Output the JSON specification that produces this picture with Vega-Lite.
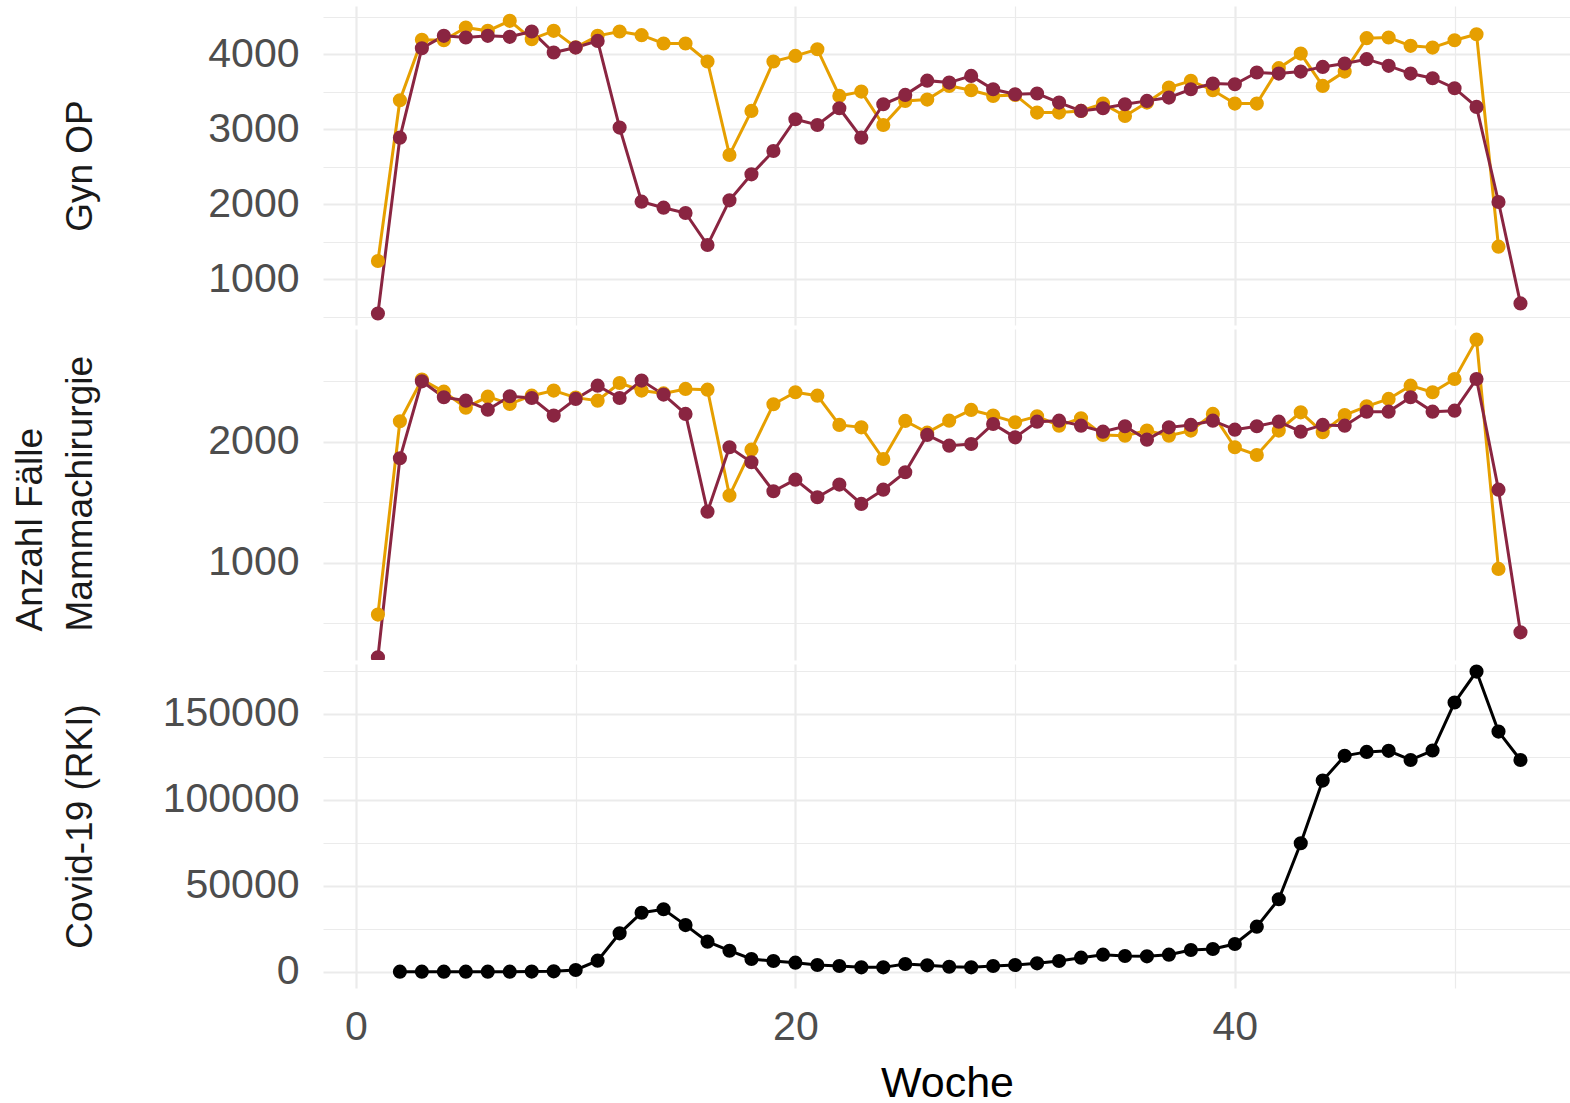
{
  "$schema": "https://vega.github.io/schema/vega-lite/v6.json",
  "padding": {"left": 11, "top": 6, "right": 0, "bottom": 0},
  "autosize": {"type": "pad"},
  "spacing": 4,
  "resolve": {"scale": {"y": "independent"}},
  "config": {
    "view": {"stroke": null},
    "axis": {
      "domain": false, "ticks": false, "tickSize": 0,
      "gridColor": "#EBEBEB",
      "labelFont": "Liberation Sans", "labelFontSize": 41, "labelColor": "#4D4D4D",
      "titleFont": "Liberation Sans", "titleFontSize": 37, "titleColor": "#1A1A1A", "titleFontWeight": "normal",
      "labelOverlap": false, "labelFlush": false
    }
  },
  "datasets": {
    "gyn": [
      {"jahr":"2019","woche":1,"anzahl":1240},{"jahr":"2019","woche":2,"anzahl":3384},{"jahr":"2019","woche":3,"anzahl":4189},{"jahr":"2019","woche":4,"anzahl":4184},{"jahr":"2019","woche":5,"anzahl":4353},{"jahr":"2019","woche":6,"anzahl":4309},{"jahr":"2019","woche":7,"anzahl":4442},{"jahr":"2019","woche":8,"anzahl":4198},{"jahr":"2019","woche":9,"anzahl":4309},{"jahr":"2019","woche":10,"anzahl":4090},{"jahr":"2019","woche":11,"anzahl":4242},{"jahr":"2019","woche":12,"anzahl":4300},{"jahr":"2019","woche":13,"anzahl":4251},{"jahr":"2019","woche":14,"anzahl":4140},{"jahr":"2019","woche":15,"anzahl":4140},{"jahr":"2019","woche":16,"anzahl":3900},{"jahr":"2019","woche":17,"anzahl":2654},{"jahr":"2019","woche":18,"anzahl":3241},{"jahr":"2019","woche":19,"anzahl":3900},{"jahr":"2019","woche":20,"anzahl":3975},{"jahr":"2019","woche":21,"anzahl":4064},{"jahr":"2019","woche":22,"anzahl":3441},{"jahr":"2019","woche":23,"anzahl":3499},{"jahr":"2019","woche":24,"anzahl":3054},{"jahr":"2019","woche":25,"anzahl":3375},{"jahr":"2019","woche":26,"anzahl":3392},{"jahr":"2019","woche":27,"anzahl":3575},{"jahr":"2019","woche":28,"anzahl":3517},{"jahr":"2019","woche":29,"anzahl":3441},{"jahr":"2019","woche":30,"anzahl":3455},{"jahr":"2019","woche":31,"anzahl":3219},{"jahr":"2019","woche":32,"anzahl":3219},{"jahr":"2019","woche":33,"anzahl":3241},{"jahr":"2019","woche":34,"anzahl":3339},{"jahr":"2019","woche":35,"anzahl":3174},{"jahr":"2019","woche":36,"anzahl":3352},{"jahr":"2019","woche":37,"anzahl":3553},{"jahr":"2019","woche":38,"anzahl":3642},{"jahr":"2019","woche":39,"anzahl":3517},{"jahr":"2019","woche":40,"anzahl":3339},{"jahr":"2019","woche":41,"anzahl":3339},{"jahr":"2019","woche":42,"anzahl":3811},{"jahr":"2019","woche":43,"anzahl":4006},{"jahr":"2019","woche":44,"anzahl":3575},{"jahr":"2019","woche":45,"anzahl":3766},{"jahr":"2019","woche":46,"anzahl":4211},{"jahr":"2019","woche":47,"anzahl":4220},{"jahr":"2019","woche":48,"anzahl":4109},{"jahr":"2019","woche":49,"anzahl":4086},{"jahr":"2019","woche":50,"anzahl":4184},{"jahr":"2019","woche":51,"anzahl":4264},{"jahr":"2019","woche":52,"anzahl":1431},
      {"jahr":"2020","woche":1,"anzahl":541},{"jahr":"2020","woche":2,"anzahl":2885},{"jahr":"2020","woche":3,"anzahl":4077},{"jahr":"2020","woche":4,"anzahl":4242},{"jahr":"2020","woche":5,"anzahl":4220},{"jahr":"2020","woche":6,"anzahl":4242},{"jahr":"2020","woche":7,"anzahl":4229},{"jahr":"2020","woche":8,"anzahl":4300},{"jahr":"2020","woche":9,"anzahl":4020},{"jahr":"2020","woche":10,"anzahl":4086},{"jahr":"2020","woche":11,"anzahl":4175},{"jahr":"2020","woche":12,"anzahl":3019},{"jahr":"2020","woche":13,"anzahl":2031},{"jahr":"2020","woche":14,"anzahl":1951},{"jahr":"2020","woche":15,"anzahl":1880},{"jahr":"2020","woche":16,"anzahl":1453},{"jahr":"2020","woche":17,"anzahl":2049},{"jahr":"2020","woche":18,"anzahl":2396},{"jahr":"2020","woche":19,"anzahl":2707},{"jahr":"2020","woche":20,"anzahl":3130},{"jahr":"2020","woche":21,"anzahl":3054},{"jahr":"2020","woche":22,"anzahl":3277},{"jahr":"2020","woche":23,"anzahl":2885},{"jahr":"2020","woche":24,"anzahl":3330},{"jahr":"2020","woche":25,"anzahl":3455},{"jahr":"2020","woche":26,"anzahl":3645},{"jahr":"2020","woche":27,"anzahl":3619},{"jahr":"2020","woche":28,"anzahl":3708},{"jahr":"2020","woche":29,"anzahl":3530},{"jahr":"2020","woche":30,"anzahl":3464},{"jahr":"2020","woche":31,"anzahl":3473},{"jahr":"2020","woche":32,"anzahl":3352},{"jahr":"2020","woche":33,"anzahl":3241},{"jahr":"2020","woche":34,"anzahl":3277},{"jahr":"2020","woche":35,"anzahl":3330},{"jahr":"2020","woche":36,"anzahl":3375},{"jahr":"2020","woche":37,"anzahl":3419},{"jahr":"2020","woche":38,"anzahl":3530},{"jahr":"2020","woche":39,"anzahl":3606},{"jahr":"2020","woche":40,"anzahl":3597},{"jahr":"2020","woche":41,"anzahl":3753},{"jahr":"2020","woche":42,"anzahl":3739},{"jahr":"2020","woche":43,"anzahl":3766},{"jahr":"2020","woche":44,"anzahl":3828},{"jahr":"2020","woche":45,"anzahl":3873},{"jahr":"2020","woche":46,"anzahl":3931},{"jahr":"2020","woche":47,"anzahl":3842},{"jahr":"2020","woche":48,"anzahl":3739},{"jahr":"2020","woche":49,"anzahl":3677},{"jahr":"2020","woche":50,"anzahl":3544},{"jahr":"2020","woche":51,"anzahl":3295},{"jahr":"2020","woche":52,"anzahl":2027},{"jahr":"2020","woche":53,"anzahl":675}
    ],
    "mamma": [
      {"jahr":"2019","woche":1,"anzahl":569},{"jahr":"2019","woche":2,"anzahl":2169},{"jahr":"2019","woche":3,"anzahl":2514},{"jahr":"2019","woche":4,"anzahl":2414},{"jahr":"2019","woche":5,"anzahl":2282},{"jahr":"2019","woche":6,"anzahl":2373},{"jahr":"2019","woche":7,"anzahl":2312},{"jahr":"2019","woche":8,"anzahl":2381},{"jahr":"2019","woche":9,"anzahl":2423},{"jahr":"2019","woche":10,"anzahl":2365},{"jahr":"2019","woche":11,"anzahl":2340},{"jahr":"2019","woche":12,"anzahl":2486},{"jahr":"2019","woche":13,"anzahl":2423},{"jahr":"2019","woche":14,"anzahl":2400},{"jahr":"2019","woche":15,"anzahl":2437},{"jahr":"2019","woche":16,"anzahl":2431},{"jahr":"2019","woche":17,"anzahl":1554},{"jahr":"2019","woche":18,"anzahl":1934},{"jahr":"2019","woche":19,"anzahl":2310},{"jahr":"2019","woche":20,"anzahl":2409},{"jahr":"2019","woche":21,"anzahl":2381},{"jahr":"2019","woche":22,"anzahl":2139},{"jahr":"2019","woche":23,"anzahl":2119},{"jahr":"2019","woche":24,"anzahl":1857},{"jahr":"2019","woche":25,"anzahl":2172},{"jahr":"2019","woche":26,"anzahl":2075},{"jahr":"2019","woche":27,"anzahl":2174},{"jahr":"2019","woche":28,"anzahl":2263},{"jahr":"2019","woche":29,"anzahl":2216},{"jahr":"2019","woche":30,"anzahl":2161},{"jahr":"2019","woche":31,"anzahl":2210},{"jahr":"2019","woche":32,"anzahl":2133},{"jahr":"2019","woche":33,"anzahl":2194},{"jahr":"2019","woche":34,"anzahl":2056},{"jahr":"2019","woche":35,"anzahl":2050},{"jahr":"2019","woche":36,"anzahl":2092},{"jahr":"2019","woche":37,"anzahl":2050},{"jahr":"2019","woche":38,"anzahl":2092},{"jahr":"2019","woche":39,"anzahl":2230},{"jahr":"2019","woche":40,"anzahl":1954},{"jahr":"2019","woche":41,"anzahl":1890},{"jahr":"2019","woche":42,"anzahl":2092},{"jahr":"2019","woche":43,"anzahl":2243},{"jahr":"2019","woche":44,"anzahl":2078},{"jahr":"2019","woche":45,"anzahl":2221},{"jahr":"2019","woche":46,"anzahl":2293},{"jahr":"2019","woche":47,"anzahl":2354},{"jahr":"2019","woche":48,"anzahl":2464},{"jahr":"2019","woche":49,"anzahl":2409},{"jahr":"2019","woche":50,"anzahl":2519},{"jahr":"2019","woche":51,"anzahl":2845},{"jahr":"2019","woche":52,"anzahl":947},
      {"jahr":"2020","woche":1,"anzahl":216},{"jahr":"2020","woche":2,"anzahl":1863},{"jahr":"2020","woche":3,"anzahl":2500},{"jahr":"2020","woche":4,"anzahl":2368},{"jahr":"2020","woche":5,"anzahl":2340},{"jahr":"2020","woche":6,"anzahl":2265},{"jahr":"2020","woche":7,"anzahl":2376},{"jahr":"2020","woche":8,"anzahl":2362},{"jahr":"2020","woche":9,"anzahl":2216},{"jahr":"2020","woche":10,"anzahl":2354},{"jahr":"2020","woche":11,"anzahl":2464},{"jahr":"2020","woche":12,"anzahl":2362},{"jahr":"2020","woche":13,"anzahl":2506},{"jahr":"2020","woche":14,"anzahl":2390},{"jahr":"2020","woche":15,"anzahl":2230},{"jahr":"2020","woche":16,"anzahl":1421},{"jahr":"2020","woche":17,"anzahl":1954},{"jahr":"2020","woche":18,"anzahl":1830},{"jahr":"2020","woche":19,"anzahl":1590},{"jahr":"2020","woche":20,"anzahl":1686},{"jahr":"2020","woche":21,"anzahl":1540},{"jahr":"2020","woche":22,"anzahl":1645},{"jahr":"2020","woche":23,"anzahl":1485},{"jahr":"2020","woche":24,"anzahl":1603},{"jahr":"2020","woche":25,"anzahl":1747},{"jahr":"2020","woche":26,"anzahl":2056},{"jahr":"2020","woche":27,"anzahl":1967},{"jahr":"2020","woche":28,"anzahl":1981},{"jahr":"2020","woche":29,"anzahl":2147},{"jahr":"2020","woche":30,"anzahl":2036},{"jahr":"2020","woche":31,"anzahl":2166},{"jahr":"2020","woche":32,"anzahl":2174},{"jahr":"2020","woche":33,"anzahl":2133},{"jahr":"2020","woche":34,"anzahl":2083},{"jahr":"2020","woche":35,"anzahl":2128},{"jahr":"2020","woche":36,"anzahl":2017},{"jahr":"2020","woche":37,"anzahl":2119},{"jahr":"2020","woche":38,"anzahl":2139},{"jahr":"2020","woche":39,"anzahl":2174},{"jahr":"2020","woche":40,"anzahl":2100},{"jahr":"2020","woche":41,"anzahl":2128},{"jahr":"2020","woche":42,"anzahl":2166},{"jahr":"2020","woche":43,"anzahl":2083},{"jahr":"2020","woche":44,"anzahl":2139},{"jahr":"2020","woche":45,"anzahl":2133},{"jahr":"2020","woche":46,"anzahl":2249},{"jahr":"2020","woche":47,"anzahl":2249},{"jahr":"2020","woche":48,"anzahl":2368},{"jahr":"2020","woche":49,"anzahl":2249},{"jahr":"2020","woche":50,"anzahl":2257},{"jahr":"2020","woche":51,"anzahl":2519},{"jahr":"2020","woche":52,"anzahl":1603},{"jahr":"2020","woche":53,"anzahl":422}
    ],
    "rki": [
      {"jahr":"RKI","woche":2,"anzahl":0},{"jahr":"RKI","woche":3,"anzahl":0},{"jahr":"RKI","woche":4,"anzahl":0},{"jahr":"RKI","woche":5,"anzahl":0},{"jahr":"RKI","woche":6,"anzahl":0},{"jahr":"RKI","woche":7,"anzahl":20},{"jahr":"RKI","woche":8,"anzahl":50},{"jahr":"RKI","woche":9,"anzahl":200},{"jahr":"RKI","woche":10,"anzahl":1000},{"jahr":"RKI","woche":11,"anzahl":6400},{"jahr":"RKI","woche":12,"anzahl":22300},{"jahr":"RKI","woche":13,"anzahl":34300},{"jahr":"RKI","woche":14,"anzahl":36300},{"jahr":"RKI","woche":15,"anzahl":27100},{"jahr":"RKI","woche":16,"anzahl":17450},{"jahr":"RKI","woche":17,"anzahl":12200},{"jahr":"RKI","woche":18,"anzahl":7370},{"jahr":"RKI","woche":19,"anzahl":6200},{"jahr":"RKI","woche":20,"anzahl":5240},{"jahr":"RKI","woche":21,"anzahl":3880},{"jahr":"RKI","woche":22,"anzahl":3300},{"jahr":"RKI","woche":23,"anzahl":2520},{"jahr":"RKI","woche":24,"anzahl":2520},{"jahr":"RKI","woche":25,"anzahl":4460},{"jahr":"RKI","woche":26,"anzahl":3680},{"jahr":"RKI","woche":27,"anzahl":2900},{"jahr":"RKI","woche":28,"anzahl":2520},{"jahr":"RKI","woche":29,"anzahl":3300},{"jahr":"RKI","woche":30,"anzahl":3880},{"jahr":"RKI","woche":31,"anzahl":4850},{"jahr":"RKI","woche":32,"anzahl":6200},{"jahr":"RKI","woche":33,"anzahl":8140},{"jahr":"RKI","woche":34,"anzahl":9890},{"jahr":"RKI","woche":35,"anzahl":9110},{"jahr":"RKI","woche":36,"anzahl":8920},{"jahr":"RKI","woche":37,"anzahl":9890},{"jahr":"RKI","woche":38,"anzahl":12600},{"jahr":"RKI","woche":39,"anzahl":13200},{"jahr":"RKI","woche":40,"anzahl":16100},{"jahr":"RKI","woche":41,"anzahl":26200},{"jahr":"RKI","woche":42,"anzahl":42100},{"jahr":"RKI","woche":43,"anzahl":74700},{"jahr":"RKI","woche":44,"anzahl":111100},{"jahr":"RKI","woche":45,"anzahl":125500},{"jahr":"RKI","woche":46,"anzahl":127800},{"jahr":"RKI","woche":47,"anzahl":128400},{"jahr":"RKI","woche":48,"anzahl":123100},{"jahr":"RKI","woche":49,"anzahl":128600},{"jahr":"RKI","woche":50,"anzahl":156500},{"jahr":"RKI","woche":51,"anzahl":174500},{"jahr":"RKI","woche":52,"anzahl":139600},{"jahr":"RKI","woche":53,"anzahl":123100}
    ]
  },
  "vconcat": [
    {
      "width": 1248, "height": 319,
      "data": {"name": "gyn"},
      "encoding": {
        "x": {"field": "woche", "type": "quantitative", "scale": {"domain": [-1.5, 55.3], "nice": false, "zero": false},
              "axis": {"values": [0, 10, 20, 30, 40, 50], "labels": false, "title": null,
                       "gridWidth": {"condition": {"test": "datum.value % 20 !== 0", "value": 1.2}, "value": 2.2}}},
        "y": {"field": "anzahl", "type": "quantitative", "scale": {"domain": [387, 4640], "nice": false, "zero": false},
              "axis": {"title": "Gyn OP", "values": [500, 1000, 1500, 2000, 2500, 3000, 3500, 4000, 4500], "format": "d",
                       "labelExpr": "datum.value % 1000 === 0 ? datum.label : ''",
                       "labelFontSize": {"condition": {"test": "datum.value % 1000 !== 0", "value": 0}, "value": 41},
                       "labelPadding": 24, "minExtent": 200, "maxExtent": 200, "titlePadding": 24,
                       "gridWidth": {"condition": {"test": "datum.value % 1000 !== 0", "value": 1.2}, "value": 2.2}}},
        "color": {"field": "jahr", "type": "nominal", "scale": {"domain": ["2019", "2020", "RKI"], "range": ["#E69F00", "#8A2541", "#000000"]}, "legend": null}
      },
      "layer": [
        {"mark": {"type": "line", "strokeWidth": 3}},
        {"mark": {"type": "point", "filled": true, "size": 200, "opacity": 1}}
      ]
    },
    {
      "width": 1248, "height": 331,
      "data": {"name": "mamma"},
      "encoding": {
        "x": {"field": "woche", "type": "quantitative", "scale": {"domain": [-1.5, 55.3], "nice": false, "zero": false},
              "axis": {"values": [0, 10, 20, 30, 40, 50], "labels": false, "title": null,
                       "gridWidth": {"condition": {"test": "datum.value % 20 !== 0", "value": 1.2}, "value": 2.2}}},
        "y": {"field": "anzahl", "type": "quantitative", "scale": {"domain": [193, 2933], "nice": false, "zero": false},
              "axis": {"title": ["Anzahl Fälle", "Mammachirurgie"], "values": [500, 1000, 1500, 2000, 2500], "format": "d",
                       "labelExpr": "datum.value % 1000 === 0 ? datum.label : ''",
                       "labelFontSize": {"condition": {"test": "datum.value % 1000 !== 0", "value": 0}, "value": 41},
                       "labelPadding": 24, "minExtent": 200, "maxExtent": 200, "titlePadding": 24,
                       "titleAlign": "left", "titleY": 302, "titleLineHeight": 50,
                       "gridWidth": {"condition": {"test": "datum.value % 1000 !== 0", "value": 1.2}, "value": 2.2}}},
        "color": {"field": "jahr", "type": "nominal", "scale": {"domain": ["2019", "2020", "RKI"], "range": ["#E69F00", "#8A2541", "#000000"]}, "legend": null}
      },
      "layer": [
        {"mark": {"type": "line", "strokeWidth": 3, "clip": true}},
        {"mark": {"type": "point", "filled": true, "size": 200, "opacity": 1, "clip": true}}
      ]
    },
    {
      "width": 1248, "height": 324,
      "data": {"name": "rki"},
      "encoding": {
        "x": {"field": "woche", "type": "quantitative", "scale": {"domain": [-1.5, 55.3], "nice": false, "zero": false},
              "axis": {"values": [0, 10, 20, 30, 40, 50], "title": "Woche", "titleFontSize": 43, "titleColor": "#000000",
                       "labelExpr": "datum.value % 20 === 0 ? datum.label : ''",
                       "labelPadding": 19, "minExtent": 60, "maxExtent": 60, "titlePadding": 14,
                       "gridWidth": {"condition": {"test": "datum.value % 20 !== 0", "value": 1.2}, "value": 2.2}}},
        "y": {"field": "anzahl", "type": "quantitative", "scale": {"domain": [-9480, 178900], "nice": false, "zero": false},
              "axis": {"title": "Covid-19 (RKI)", "values": [0, 25000, 50000, 75000, 100000, 125000, 150000, 175000], "format": "d",
                       "labelExpr": "datum.value % 50000 === 0 ? datum.label : ''",
                       "labelFontSize": {"condition": {"test": "datum.value % 50000 !== 0", "value": 0}, "value": 41},
                       "labelPadding": 24, "minExtent": 200, "maxExtent": 200, "titlePadding": 24,
                       "gridWidth": {"condition": {"test": "datum.value % 50000 !== 0", "value": 1.2}, "value": 2.2}}},
        "color": {"field": "jahr", "type": "nominal", "scale": {"domain": ["2019", "2020", "RKI"], "range": ["#E69F00", "#8A2541", "#000000"]}, "legend": null}
      },
      "layer": [
        {"mark": {"type": "line", "strokeWidth": 3}},
        {"mark": {"type": "point", "filled": true, "size": 200, "opacity": 1}}
      ]
    }
  ]
}
